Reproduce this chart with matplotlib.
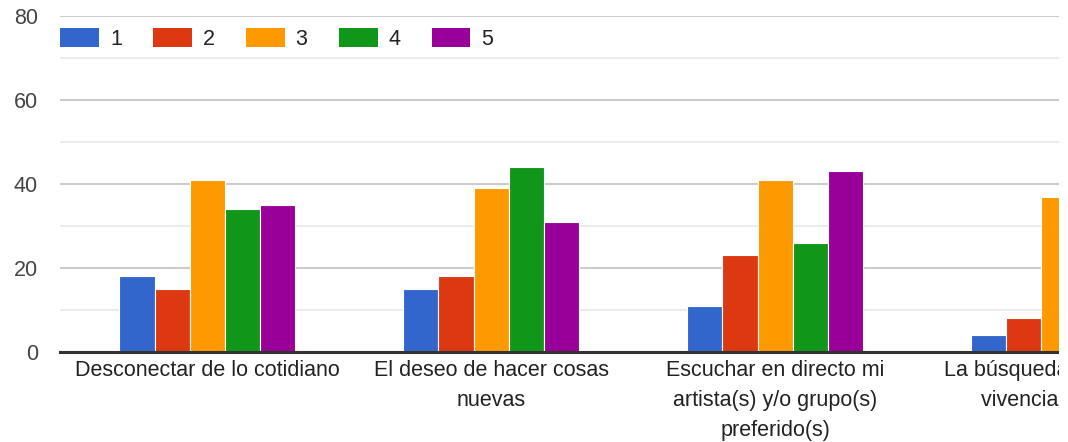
import matplotlib
matplotlib.use('Agg')
import matplotlib.pyplot as plt
import numpy as np
from matplotlib.patches import Patch, Rectangle

categories = ['Desconectar de lo cotidiano',
              'El deseo de hacer cosas\nnuevas',
              'Escuchar en directo mi\nartista(s) y/o grupo(s)\npreferido(s)',
              'La búsqueda de nuevas\nvivencias únicas']
series = ['1', '2', '3', '4', '5']
values = {
    '1': [18, 15, 11, 4],
    '2': [15, 18, 23, 8],
    '3': [41, 39, 41, 37],
    '4': [34, 44, 26, 0],
    '5': [35, 31, 43, 0],
}
colors = ['#3366cc', '#dc3912', '#ff9900', '#109618', '#990099']
yticks = [0, 20, 40, 60, 80]

plt.rcParams['font.family'] = ['Liberation Sans', 'DejaVu Sans']
FS = 15.5

W, H = 1068, 442
fig = plt.figure(figsize=(W / 100, H / 100), dpi=100)
ax = fig.add_axes([60 / W, (H - 352) / H, (1059 - 60) / W, 336 / H])

x = np.arange(len(categories))
bw = 0.124
for i, (s, c) in enumerate(zip(series, colors)):
    off = (i - 2) * bw
    ax.bar(x + off, values[s], width=bw, color=c, edgecolor='white',
           linewidth=0.8, zorder=3, label=s)

ax.set_ylim(0, 80)
ax.set_xlim((60 - 208.5) / 286, (1059 - 208.5) / 286)
ax.set_yticks(yticks)
ax.set_yticks([10, 30, 50, 70], minor=True)
ax.grid(axis='y', which='major', color='#cccccc', linewidth=1.5, zorder=0)
ax.grid(axis='y', which='minor', color='#ebebeb', linewidth=1.5, zorder=0)
ax.tick_params(axis='y', which='both', length=0, pad=15.8, labelsize=FS,
               labelcolor='#444444')
ax.set_xticks(x)
ax.set_xticklabels(categories, fontsize=FS, color='#222222', linespacing=1.55)
ax.tick_params(axis='x', length=0, pad=6)
for sp in ['top', 'right', 'left']:
    ax.spines[sp].set_visible(False)
ax.spines['bottom'].set_color('#333333')
ax.spines['bottom'].set_linewidth(2.2)
ax.spines['bottom'].set_zorder(4)

handles = [Patch(facecolor=c, edgecolor='none') for c in colors]
fig.legend(handles, series, loc='center left', ncol=5, frameon=False,
           bbox_to_anchor=(60 / W, 1 - 39 / H), fontsize=FS,
           handlelength=1.81, handleheight=0.93, handletextpad=0.51,
           columnspacing=1.44, borderaxespad=0, borderpad=0,
           labelcolor='#222222')

# right edge is cut off in the original
fig.add_artist(Rectangle((1059 / W, 0), 1, 1, transform=fig.transFigure,
                         facecolor='white', edgecolor='none', zorder=10))

fig.savefig('out.png', dpi=100)
